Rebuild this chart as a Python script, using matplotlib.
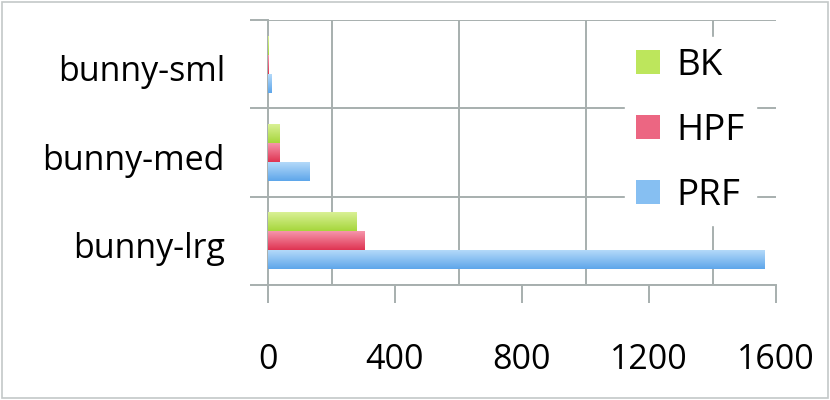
import numpy as np
import matplotlib.pyplot as plt
import matplotlib.transforms as mtransforms
from matplotlib.patches import Rectangle
from matplotlib.colors import LinearSegmentedColormap

plt.rcParams['font.family'] = ['Open Sans', 'DejaVu Sans']

categories = ['bunny-lrg', 'bunny-med', 'bunny-sml']
series = ['BK', 'HPF', 'PRF']
bk = [280, 35, 1]
hpf = [305, 35, 2]
prf = [1565, 130, 12]
xticks = [0, 400, 800, 1200, 1600]

# light top -> darker bottom, like the office gradient fill
grads = {
    'BK': ('#dcf29a', '#a6d63c'),
    'HPF': ('#f79ab0', '#df3452'),
    'PRF': ('#b8dcfa', '#5ea6ea'),
}
flat = {'BK': '#bde65c', 'HPF': '#ec6682', 'PRF': '#86bff2'}

fig = plt.figure(figsize=(8.3, 4), dpi=100)
fig.patches.append(Rectangle((0.003, 0.004), 0.994, 0.991, transform=fig.transFigure,
                             fill=False, edgecolor='#c4c8c8', linewidth=1.2))
ax = fig.add_axes([268 / 830, 1 - 285 / 400, 508 / 830, 265 / 400])

y = np.arange(len(categories))
h = 0.216
offsets = {'BK': h, 'HPF': 0.0, 'PRF': -h}
values = {'BK': bk, 'HPF': hpf, 'PRF': prf}

grad = np.linspace(0, 1, 64).reshape(-1, 1)
for name in series:
    bars = ax.barh(y + offsets[name], values[name], height=h, color=flat[name],
                   edgecolor='none', zorder=3, label=name)
    cmap = LinearSegmentedColormap.from_list(name, [grads[name][1], grads[name][0]])
    for b in bars:
        x0, y0 = b.get_x(), b.get_y()
        w, hh = b.get_width(), b.get_height()
        im = ax.imshow(grad, cmap=cmap, aspect='auto', origin='lower',
                       extent=[x0, x0 + w, y0, y0 + hh], zorder=4)
        im.set_clip_path(b)

ax.set_xlim(0, 1600)
ax.set_ylim(-0.5, len(categories) - 0.5)

ax.set_xticks(xticks)
ax.set_xticks(np.arange(0, 1601, 200), minor=True)
ax.set_yticks(y)
ax.set_yticklabels(categories)
ax.set_yticks(np.arange(-0.5, len(categories), 1.0), minor=True)

gc = '#a7afae'
ax.grid(True, which='minor', color=gc, linewidth=1.4, zorder=0)
ax.tick_params(axis='x', which='major', length=13, width=1.4, color=gc,
               labelsize=24.5, pad=29)
ax.tick_params(axis='x', which='minor', length=0)
ax.tick_params(axis='y', which='major', length=0, labelsize=24.5, pad=31)
ax.tick_params(axis='y', which='minor', length=13, width=1.4, color=gc)
for s in ['top', 'right']:
    ax.spines[s].set_visible(False)
for s in ['left', 'bottom']:
    ax.spines[s].set_color(gc)
    ax.spines[s].set_linewidth(1.4)
ax.set_axisbelow(True)

# nudge category labels a little lower, as in the original
shift = mtransforms.ScaledTranslation(0, -4 / 100, fig.dpi_scale_trans)
for lbl in ax.get_yticklabels():
    lbl.set_transform(lbl.get_transform() + shift)

handles = [Rectangle((0, 0), 1, 1, facecolor=flat[n], edgecolor='none') for n in series]
leg = ax.legend(handles, series, loc='upper left', bbox_to_anchor=(0.667, 1.006),
                fontsize=26.5, frameon=True, framealpha=1, edgecolor='white',
                handlelength=0.65, handleheight=0.65, handletextpad=0.45,
                labelspacing=0.79, borderpad=0.3, fancybox=False)
leg.set_zorder(5)

fig.savefig('out.png', dpi=100)
